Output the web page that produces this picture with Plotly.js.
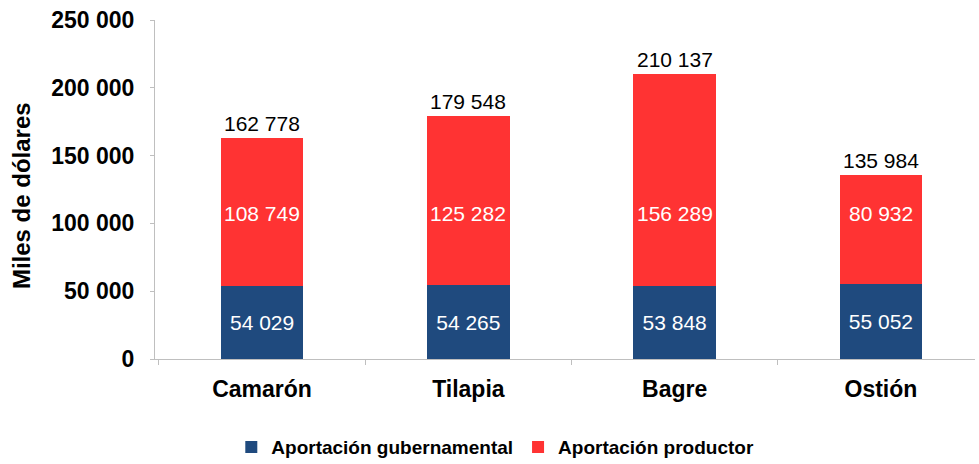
<!DOCTYPE html>
<html>
<head>
<meta charset="utf-8">
<script src="https://cdn.plot.ly/plotly-3.0.1.min.js"></script>
<style>html,body{margin:0;padding:0;background:#fff;}#chart{width:979px;height:464px;}</style>
</head>
<body>
<div id="chart"></div>
<script>
const categories = ['Camarón', 'Tilapia', 'Bagre', 'Ostión'];
const gubernamental = [54029, 54265, 53848, 55052];
const productor = [108749, 125282, 156289, 80932];
const totals = [162778, 179548, 210137, 135984];
const seriesNames = ['Aportación gubernamental', 'Aportación productor'];
const yTicks = [0, 50000, 100000, 150000, 200000, 250000];
const yTitle = 'Miles de dólares';

function fmt(n) { return String(n).replace(/\B(?=(\d{3})+(?!\d))/g, ' '); }

const FONT = 'Liberation Sans, Arial, Helvetica, sans-serif';
const BLUE = '#1f4a7e';
const RED = '#ff3333';
const RED_LABEL_Y = 107000;

const traces = [
  {
    type: 'bar', name: seriesNames[0], x: categories, y: gubernamental,
    marker: { color: BLUE },
    text: gubernamental.map(fmt), textposition: 'inside', insidetextanchor: 'middle',
    textfont: { family: FONT, size: 21, color: '#ffffff' }, hoverinfo: 'none'
  },
  {
    type: 'bar', name: seriesNames[1], x: categories, y: productor,
    marker: { color: RED }, hoverinfo: 'none'
  }
];

const annotations = [];
categories.forEach((c, i) => {
  annotations.push({
    x: c, y: totals[i], xref: 'x', yref: 'y', text: fmt(totals[i]),
    showarrow: false, yanchor: 'bottom', yshift: 1,
    font: { family: FONT, size: 21, color: '#000000' }
  });
  annotations.push({
    x: c, y: RED_LABEL_Y, xref: 'x', yref: 'y', text: fmt(productor[i]),
    showarrow: false, yanchor: 'middle',
    font: { family: FONT, size: 21, color: '#ffffff' }
  });
});
annotations.push({
  xref: 'paper', yref: 'paper', x: -0.162, y: 0.481, xanchor: 'center', yanchor: 'middle',
  text: yTitle, textangle: -90, showarrow: false,
  font: { family: FONT, size: 24, color: '#000000', weight: 'bold' }
});

const layout = {
  width: 979, height: 464,
  margin: { l: 155, r: 4, t: 20, b: 105, autoexpand: false },
  barmode: 'stack', bargap: 0.6,
  paper_bgcolor: '#ffffff', plot_bgcolor: '#ffffff',
  showlegend: true,
  legend: {
    orientation: 'h', x: 0.415, xanchor: 'center', y: -0.26, yanchor: 'middle',
    font: { family: FONT, size: 19, color: '#000000', weight: 'bold' },
    traceorder: 'normal', itemwidth: 30
  },
  xaxis: {
    type: 'category', range: [-0.519, 3.456],
    showline: true, linecolor: '#bfbfbf', linewidth: 1,
    ticks: 'outside', tickson: 'boundaries', ticklen: 5, tickcolor: '#bfbfbf',
    showgrid: false, zeroline: false, ticklabelstandoff: 9,
    tickfont: { family: FONT, size: 23, color: '#000000', weight: 'bold' }
  },
  yaxis: {
    range: [0, 250000], tickvals: yTicks, ticktext: yTicks.map(fmt),
    showline: true, linecolor: '#bfbfbf', linewidth: 1,
    ticks: 'outside', ticklen: 4, tickcolor: '#bfbfbf',
    showgrid: false, zeroline: false, ticklabelstandoff: 11,
    tickfont: { family: FONT, size: 23, color: '#000000', weight: 'bold' }
  },
  annotations: annotations
};

Plotly.newPlot('chart', traces, layout, { displayModeBar: false, staticPlot: true });
</script>
</body>
</html>
